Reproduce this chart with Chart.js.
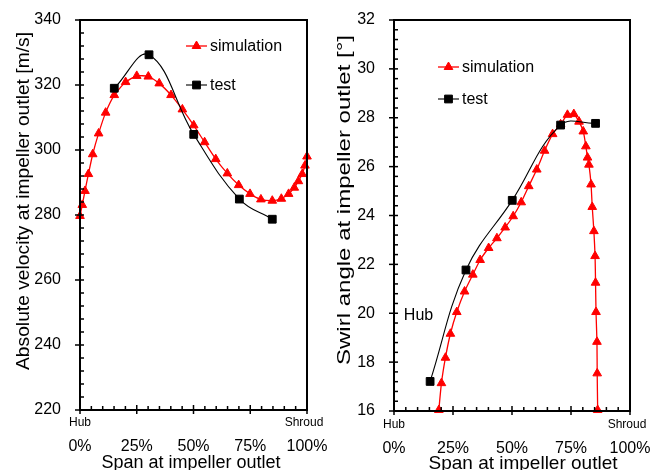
<!DOCTYPE html>
<html><head><meta charset="utf-8">
<script src="https://cdn.jsdelivr.net/npm/chart.js@4"></script>
<style>
html,body{margin:0;padding:0;background:#fff;}
#wrap{position:relative;width:662px;height:470px;overflow:hidden;background:#fff;}
canvas{position:absolute;top:0;}
</style></head><body>
<div id="wrap">
<canvas id="c1" width="331" height="470" style="left:0"></canvas>
<canvas id="c2" width="331" height="470" style="left:331px"></canvas>
</div>
<script>
// ---------- data ----------
const spanTickLabels = ['0%','25%','50%','75%','100%'];
const velTicks = [220,240,260,280,300,320,340];
const swirlTicks = [16,18,20,22,24,26,28,30,32];

const velSimSpan = [0,1.0,2.2,3.7,5.6,8.2,11.3,15.1,20.1,25.0,30.1,34.9,40.1,45.1,50.1,54.9,59.8,64.9,69.9,74.9,79.7,84.7,88.7,91.9,94.4,96.2,97.9,99.1,100];
const velSim = [279.7,283.1,287.4,292.6,298.7,305.1,311.5,316.9,320.9,322.8,322.6,320.5,316.9,312.5,307.6,302.4,297.2,292.8,289.2,286.5,284.8,284.4,285.0,286.5,288.4,290.4,292.6,295.2,298.0];
const velTestSpan = [15.1,30.4,50.1,70.2,84.7];
const velTest = [319.0,329.3,304.8,284.9,278.7];

const swirlSimSpan = [19.0,20.1,21.8,23.9,26.6,29.9,33.4,36.5,40.1,43.6,47.1,50.5,53.9,57.1,60.5,63.8,67.2,70.6,73.5,76.2,78.4,80.2,81.3,82.0,82.6,83.5,84.0,84.7,85.2,85.4,85.6,86.0,86.1,86.3];
const swirlSim = [16.04,17.14,18.18,19.16,20.05,20.89,21.58,22.18,22.67,23.07,23.51,23.97,24.54,25.20,25.88,26.65,27.33,27.73,28.12,28.15,27.84,27.44,26.83,26.37,26.08,25.27,24.35,23.36,22.34,21.25,20.05,18.83,17.54,16.04];
const swirlTestSpan = [15.3,30.5,50.1,70.6,85.4];
const swirlTest = [17.21,21.77,24.62,27.70,27.77];

const seriesNames = ['simulation','test'];
const xTitle = 'Span at impeller outlet';
const velTitle = 'Absolute velocity at impeller outlet [m/s]';
const swirlTitle = 'Swirl angle at impeller outlet [°]';

// ---------- helpers ----------
const FONT = "'Liberation Sans', Arial, sans-serif";
const RED = '#ff0000', BLACK = '#000000';
const pts = (xs, ys) => xs.map((x, i) => ({x, y: ys[i]}));

const deco = {
  id: 'deco',
  afterDraw(chart, args, o) {
    const ctx = chart.ctx, a = chart.chartArea;
    const xs = chart.scales.x, ys = chart.scales.y;
    ctx.save();
    ctx.setTransform(1, 0, 0, 1, 0, 0);
    ctx.globalAlpha = 1;
    ctx.globalCompositeOperation = 'source-over';
    ctx.fillStyle = BLACK;
    const L = Math.round(a.left), R = Math.round(a.right);
    const T = Math.round(a.top), B = Math.round(a.bottom);
    const lw = 2, tw = 1.5;
    // frame (filled bars)
    ctx.fillRect(L - 1, T - 1, lw, B - T + 2);
    ctx.fillRect(R - 1, T - 1, lw, B - T + 2);
    ctx.fillRect(L - 1, T - 1, R - L + 2, lw);
    ctx.fillRect(L - 1, B - 1, R - L + 2, lw);
    // y ticks (major cross the axis, minor inside)
    const yt = ys.ticks.map(t => t.value);
    yt.forEach(v => { const p = ys.getPixelForValue(v); ctx.fillRect(L - 5, p - tw / 2, 9, tw); });
    for (let i = 0; i < yt.length - 1; i++) for (let k = 1; k < o.minorY; k++) {
      const p = ys.getPixelForValue(yt[i] + (yt[i+1] - yt[i]) * k / o.minorY);
      ctx.fillRect(L, p - tw / 2, 4, tw);
    }
    // x ticks
    const xt = xs.ticks.map(t => t.value);
    xt.forEach(v => { const p = xs.getPixelForValue(v); ctx.fillRect(p - tw / 2, B - 5, tw, 9); });
    for (let i = 0; i < xt.length - 1; i++) for (let k = 1; k < o.minorX; k++) {
      const p = xs.getPixelForValue(xt[i] + (xt[i+1] - xt[i]) * k / o.minorX);
      ctx.fillRect(p - tw / 2, B - 4, tw, 4);
    }

    // Hub / Shroud
    ctx.font = '12px ' + FONT; ctx.textAlign = 'center'; ctx.textBaseline = 'alphabetic';
    ctx.fillText('Hub', xs.getPixelForValue(0), a.bottom + o.hubDy);
    ctx.fillText('Shroud', xs.getPixelForValue(100) - 3, a.bottom + o.hubDy);

    // x title
    ctx.font = o.xTitleSize + 'px ' + FONT;
    ctx.fillText(o.xTitleText, o.xTitleX, o.xTitleY);

    // y title
    ctx.save();
    ctx.translate(o.yTitleX, o.yTitleY);
    ctx.rotate(-Math.PI / 2);
    ctx.font = o.yTitleSize + 'px ' + FONT;
    ctx.textBaseline = 'middle';
    const w = ctx.measureText(o.yTitleText).width;
    ctx.scale(o.yTitleLen / w, 1);
    ctx.fillText(o.yTitleText, 0, 0);
    ctx.restore();

    // legend
    ctx.font = '16px ' + FONT; ctx.textAlign = 'left'; ctx.textBaseline = 'middle';
    chart.data.datasets.forEach((ds, i) => {
      const y = o.legY[i];
      ctx.strokeStyle = ds.borderColor; ctx.lineWidth = ds.borderWidth;
      ctx.beginPath(); ctx.moveTo(o.legX, y); ctx.lineTo(o.legX + 21, y); ctx.stroke();
      ctx.fillStyle = ds.pointBackgroundColor; ctx.strokeStyle = ds.pointBorderColor; ctx.lineWidth = 1;
      Chart.helpers.drawPoint(ctx, {pointStyle: ds.pointStyle, radius: ds.pointRadius, rotation: 0, borderWidth: 1}, o.legX + 10.5, y);
      ctx.fillStyle = BLACK;
      ctx.fillText(ds.label, o.legX + 24, y + 1);
    });

    // in-plot annotation
    if (o.note) {
      ctx.font = '16px ' + FONT; ctx.textAlign = 'center'; ctx.textBaseline = 'middle';
      ctx.fillText(o.note.text, xs.getPixelForValue(o.note.x), ys.getPixelForValue(o.note.y));
    }
    ctx.restore();
  }
};

function makeChart(id, cfg) {
  const simDs = {
    label: seriesNames[0], data: pts(cfg.simX, cfg.simY), showLine: true,
    borderColor: RED, backgroundColor: RED, borderWidth: 1.3, tension: 0.2,
    pointStyle: 'triangle', pointRadius: 5, pointBackgroundColor: RED, pointBorderColor: RED,
    pointBorderWidth: 1, order: 1, clip: false
  };
  const testDs = {
    label: seriesNames[1], data: pts(cfg.testX, cfg.testY), showLine: true,
    borderColor: BLACK, backgroundColor: BLACK, borderWidth: 1.1, tension: 0.4,
    pointStyle: 'rect', pointRadius: 5.5, pointBackgroundColor: BLACK, pointBorderColor: BLACK,
    pointBorderWidth: 1, order: 0, clip: false
  };
  return new Chart(document.getElementById(id), {
    type: 'scatter',
    data: {datasets: [simDs, testDs]},
    plugins: [deco],
    options: {
      responsive: false, animation: false, devicePixelRatio: 1,
      layout: {padding: {left: 0, top: 20, right: cfg.padRight, bottom: 0}},
      plugins: {legend: {display: false}, tooltip: {enabled: false}, deco: cfg.deco},
      scales: {
        x: {
          type: 'linear', min: 0, max: 100,
          grid: {display: false}, border: {display: false},
          afterFit: s => { s.height = cfg.xHeight; s.paddingLeft = 0; s.paddingRight = 0; },
          ticks: {stepSize: 25, padding: cfg.xTickPad, color: BLACK, maxRotation: 0,
                  font: {family: FONT, size: 16},
                  callback: (v, i) => spanTickLabels[i]}
        },
        y: {
          type: 'linear', min: cfg.yTicks[0], max: cfg.yTicks[cfg.yTicks.length - 1],
          grid: {display: false}, border: {display: false},
          afterFit: s => { s.width = cfg.yWidth; s.paddingTop = 0; s.paddingBottom = 0; },
          ticks: {stepSize: cfg.yTicks[1] - cfg.yTicks[0], padding: 11, color: BLACK,
                  font: {family: FONT, size: 16},
                  callback: (v, i) => String(cfg.yTicks[i])}
        }
      }
    }
  });
}

makeChart('c1', {
  simX: velSimSpan, simY: velSim, testX: velTestSpan, testY: velTest,
  yTicks: velTicks, padRight: 24, xHeight: 60, yWidth: 80, xTickPad: 19,
  deco: {minorX: 5, minorY: 5, hubDy: 16, xTitleText: xTitle, xTitleSize: 18, xTitleX: 191, xTitleY: 468,
         yTitleText: velTitle, yTitleSize: 19, yTitleX: 24, yTitleY: 201, yTitleLen: 338,
         legX: 186, legY: [46, 85]}
});
makeChart('c2', {
  simX: swirlSimSpan, simY: swirlSim, testX: swirlTestSpan, testY: swirlTest,
  yTicks: swirlTicks, padRight: 32, xHeight: 59, yWidth: 63, xTickPad: 20,
  deco: {minorX: 5, minorY: 5, hubDy: 17, xTitleText: xTitle, xTitleSize: 19, xTitleX: 192, xTitleY: 469,
         yTitleText: swirlTitle, yTitleSize: 19, yTitleX: 14, yTitleY: 200, yTitleLen: 330,
         legX: 107, legY: [67, 99], note: {text: 'Hub', x: 10.4, y: 19.9}}
});
</script>
</body></html>
